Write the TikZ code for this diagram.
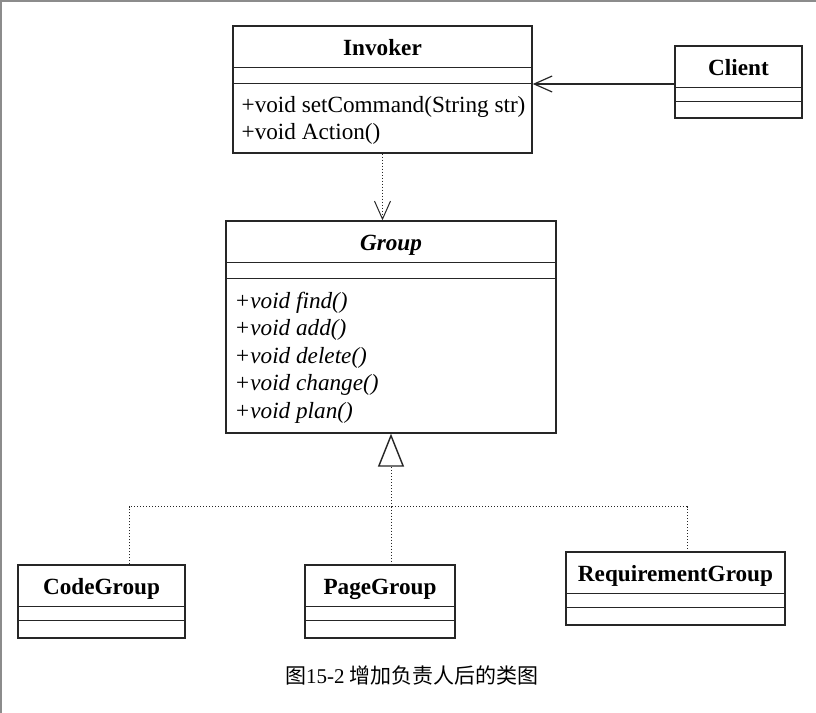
\documentclass[tikz,border=0pt]{standalone}
\usepackage{fontspec}
\setmainfont{Liberation Serif}
\newfontfamily\cjk{Noto Sans CJK SC}
\usetikzlibrary{
    arrows.meta,
    positioning,
    calc
}
\tikzset{
    % Colors
    frame color/.style={black!45},
    line color/.style={black!85},
    %
    % Class boxes
    class box/.style={draw,line color,line width=0.7pt,inner sep=0pt},
    class name/.style={anchor=base,inner sep=0pt,font=\bfseries},
    member/.style={anchor=base west,inner sep=0pt},
    compartment/.style={line color,line width=0.7pt},
    %
    % Arrows
    open tip/.tip={Straight Barb[length=9pt,width=8pt]},
    assoc/.style={->,>={open tip},line color,line width=0.6pt},
    depend/.style={->,>={open tip},line color,line width=0.5pt,densely dotted},
    realize/.style={-{Triangle[open,length=16.5pt,width=13pt,line width=0.7pt]},line color,line width=0.5pt,densely dotted},
    tree/.style={line color,line width=0.5pt,densely dotted}
}
\AtBeginDocument{\fontsize{11.6}{13.75}\selectfont}

\begin{document}
\begin{tikzpicture}[x=0.5pt,y=-0.5pt]
        \useasboundingbox (0,0) rectangle (816,713);
        \draw[frame color,line width=1pt] (1,713) -- (1,0.5) -- (816,0.5);
        % Classes
        \node[class box,minimum width=149.5pt,minimum height=63.5pt] (invoker) at (382.5,89.5) {};
        \node[class box,minimum width=63.5pt,minimum height=36pt] (client) at (738.5,82) {};
        \node[class box,minimum width=165pt,minimum height=106pt] (group) at (391,327) {};
        \node[class box,minimum width=83.5pt,minimum height=36.5pt] (codegroup) at (101.5,601.5) {};
        \node[class box,minimum width=75pt,minimum height=36.5pt] (pagegroup) at (380,601.5) {};
        \node[class box,minimum width=109.5pt,minimum height=36.5pt] (reqgroup) at (675.5,588.5) {};
        \foreach \c/\s in {invoker/29pt,client/28pt,group/29pt,codegroup/28pt,pagegroup/28pt,reqgroup/28pt} {
            \draw[compartment] ([yshift=-21pt]\c.north west) -- ([yshift=-21pt]\c.north east);
            \draw[compartment] ([yshift=-\s]\c.north west) -- ([yshift=-\s]\c.north east);
        }
        % Names and members
        \foreach \c/\t in {invoker/Invoker,client/Client,codegroup/CodeGroup,pagegroup/PageGroup,reqgroup/RequirementGroup}
            \node[class name] (\c name) at ([yshift=-15.25pt]\c.north) {\t};
        \node[class name,font=\bfseries\itshape] (group name) at ([yshift=-15.25pt]group.north) {Group};
        \foreach \m [count=\i] in {{setCommand(String str)},{Action()}}
            \node[member] (invoker m\i) at ([xshift=4.5pt,yshift={-43.5pt-13.75pt*(\i-1)}]invoker.north west) {+void \m};
        \foreach \m [count=\i] in {find,add,delete,change,plan}
            \node[member,font=\itshape] (group m\i) at ([xshift=4.5pt,yshift={-44pt-13.75pt*(\i-1)}]group.north west) {+void \m()};
        % Relations
        \draw[assoc] ([yshift=-1pt]client.west) -- ([yshift=-1pt]client.west -| invoker.east);
        \draw[depend] (invoker.south) -- (invoker.south |- group.north);
        \coordinate (fork) at ($(group.south)+(0,73)$);
        \draw[realize] (fork) -- (group.south);
        \draw[tree] ([xshift=13.75pt]codegroup.north) |- (fork) -| ([xshift=5.75pt]reqgroup.north);
        \draw[tree] (fork) -- (fork |- pagegroup.north);
        \node[font=\fontsize{10.5}{12}\selectfont] (caption) at (412,675) {{\cjk 图}15-2 {\cjk 增加负责人后的类图}};
    \end{tikzpicture}
\end{document}
